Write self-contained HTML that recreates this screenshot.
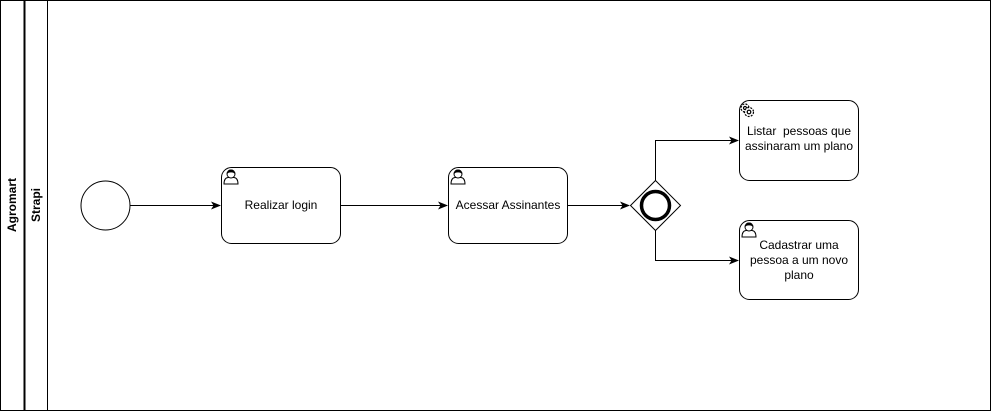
<!DOCTYPE html>
<html><head><meta charset="utf-8"><style>
html,body{margin:0;padding:0;background:#fff}
svg{display:block}
text{font-family:"Liberation Sans",sans-serif;font-size:12px;fill:#000}
</style></head><body>
<svg width="991" height="411" viewBox="0 0 991 411" xmlns="http://www.w3.org/2000/svg">
<defs>
<marker id="a" markerWidth="10" markerHeight="8" refX="9" refY="4" orient="auto" markerUnits="userSpaceOnUse">
<path d="M0,0 L10,4 L0,8 L2.5,4 Z" fill="#000"/></marker>
<g id="user">
<path d="M2,16 Q2,10 6,9.5 L12,9.5 Q16,10 16,16 Z" fill="#fff" stroke="#000" stroke-width="1"/>
<circle cx="9" cy="6" r="4" fill="#fff" stroke="#000"/>
<path d="M5,6 Q5,1.5 9,1.5 Q13,1.5 13,6 Q11,4 9,4.5 Q7,4 5,6Z" fill="#000"/>
</g>
</defs>
<rect x="0.5" y="0.5" width="990" height="410" fill="#fff" stroke="#000"/>
<line x1="24.5" y1="0" x2="24.5" y2="411" stroke="#000" stroke-width="2"/>
<line x1="47.5" y1="0" x2="47.5" y2="411" stroke="#000"/>
<text transform="translate(16,205) rotate(-90)" text-anchor="middle" font-weight="bold">Agromart</text>
<text transform="translate(40,205) rotate(-90)" text-anchor="middle" font-weight="bold">Strapi</text>

<circle cx="105.5" cy="205.5" r="24.5" fill="#fff" stroke="#000"/>
<line x1="130" y1="205.5" x2="220" y2="205.5" stroke="#000" marker-end="url(#a)"/>

<rect x="221.5" y="167.5" width="119" height="76" rx="10" fill="#fff" stroke="#000"/>
<use href="#user" x="222" y="168"/>
<text x="281" y="209" text-anchor="middle">Realizar login</text>
<line x1="341" y1="205.5" x2="447" y2="205.5" stroke="#000" marker-end="url(#a)"/>

<rect x="448.5" y="167.5" width="119" height="76" rx="10" fill="#fff" stroke="#000"/>
<use href="#user" x="449" y="168"/>
<text x="508" y="209" text-anchor="middle">Acessar Assinantes</text>
<line x1="568" y1="205.5" x2="629" y2="205.5" stroke="#000" marker-end="url(#a)"/>

<path d="M655.5,180.5 L680.5,205.5 L655.5,230.5 L630.5,205.5 Z" fill="#fff" stroke="#000"/>
<circle cx="655.5" cy="205.5" r="14" fill="none" stroke="#000" stroke-width="3.5"/>

<polyline points="655.5,180.5 655.5,140.5 738,140.5" fill="none" stroke="#000" marker-end="url(#a)"/>
<polyline points="655.5,230.5 655.5,260.5 738,260.5" fill="none" stroke="#000" marker-end="url(#a)"/>

<rect x="739.5" y="100.5" width="119" height="80" rx="10" fill="#fff" stroke="#000"/>
<g transform="translate(746,110)" fill="none" stroke="#000" stroke-width="1.2">
<circle cx="-1" cy="-2" r="4" stroke-dasharray="2 1.2"/>
<circle cx="-1" cy="-2" r="1.5"/>
<circle cx="3" cy="2" r="4.5" fill="#fff" stroke-dasharray="2 1.2"/>
<circle cx="3" cy="2" r="1.8"/>
</g>
<text x="799" y="135" text-anchor="middle">Listar&#160; pessoas que</text>
<text x="799" y="150" text-anchor="middle">assinaram um plano</text>

<rect x="739.5" y="220.5" width="119" height="79" rx="10" fill="#fff" stroke="#000"/>
<use href="#user" x="740" y="221"/>
<text x="799" y="249" text-anchor="middle">Cadastrar uma</text>
<text x="799" y="264" text-anchor="middle">pessoa a um novo</text>
<text x="799" y="279" text-anchor="middle">plano</text>
</svg>
</body></html>
